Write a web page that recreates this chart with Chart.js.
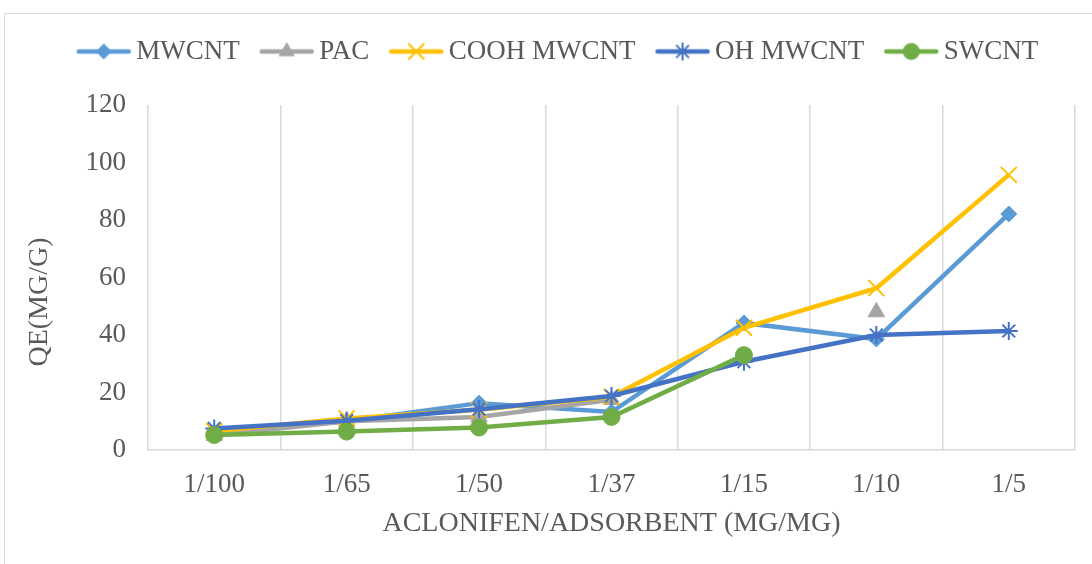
<!DOCTYPE html>
<html><head><meta charset="utf-8">
<script src="https://cdn.jsdelivr.net/npm/chart.js@4.4.1/dist/chart.umd.min.js"></script>
<style>
html,body{margin:0;padding:0;background:#fff;width:1092px;height:564px;overflow:hidden}
#frame{position:absolute;left:4px;top:13px;width:1200px;height:700px;border-left:1.5px solid #d9d9d9;border-top:1.5px solid #d9d9d9}
#c{position:absolute;left:0;top:0}
</style></head><body>
<div id="frame"></div>
<canvas id="c" width="1092" height="564"></canvas>
<script>
const categories = ['1/100','1/65','1/50','1/37','1/15','1/10','1/5'];
const seriesNames = ['MWCNT','PAC','COOH MWCNT','OH MWCNT','SWCNT'];
const mwcnt = [6, 10, 16.3, 13.2, 44.2, 38.6, 82.1];
const pac = [5, 10, 11.5, 17.5, null, 48, null];
const coohMwcnt = [6.5, 11, 14, 18.5, 42.5, 56.3, 95.7];
const ohMwcnt = [7.5, 10.2, 14.2, 18.8, 30.7, 40, 41.4];
const swcnt = [5.2, 6.4, 7.8, 11.5, 33, null, null];
const yTicks = [0, 20, 40, 60, 80, 100, 120];
const xTitle = 'ACLONIFEN/ADSORBENT (MG/MG)';
const yTitle = 'QE(MG/G)       ';

const colors = ['#5B9BD5', '#A5A5A5', '#FFC000', '#4472C4', '#70AD47'];
const styles = ['rectRot', 'triangle', 'crossRot', 'star', 'circle'];
const radii = [8, 9.5, 11.3, 9, 8.5];
const borderW = [1, 1, 2, 2, 1];
const seriesData = [mwcnt, pac, coohMwcnt, ohMwcnt, swcnt];

function icon(color, style) {
  const c = document.createElement('canvas');
  c.width = 56; c.height = 24;
  const g = c.getContext('2d');
  const cx = 28, cy = 12;
  g.strokeStyle = color; g.fillStyle = color;
  g.lineWidth = 4.5; g.lineCap = 'round';
  g.beginPath(); g.moveTo(3, cy); g.lineTo(53, cy); g.stroke();
  g.beginPath();
  if (style === 'rectRot') {
    const r = 8;
    g.moveTo(cx, cy - r); g.lineTo(cx + r, cy); g.lineTo(cx, cy + r); g.lineTo(cx - r, cy); g.closePath(); g.fill();
  } else if (style === 'triangle') {
    const r = 9.5;
    g.moveTo(cx, cy - r); g.lineTo(cx + r * 0.866, cy + r / 2); g.lineTo(cx - r * 0.866, cy + r / 2); g.closePath(); g.fill();
  } else if (style === 'crossRot') {
    const d = 8; g.lineWidth = 2; g.lineCap = 'butt';
    g.moveTo(cx - d, cy - d); g.lineTo(cx + d, cy + d); g.moveTo(cx + d, cy - d); g.lineTo(cx - d, cy + d); g.stroke();
  } else if (style === 'star') {
    const d = 6.4, r = 9; g.lineWidth = 2; g.lineCap = 'butt';
    g.moveTo(cx - d, cy - d); g.lineTo(cx + d, cy + d); g.moveTo(cx + d, cy - d); g.lineTo(cx - d, cy + d);
    g.moveTo(cx, cy - r); g.lineTo(cx, cy + r); g.moveTo(cx - r, cy); g.lineTo(cx + r, cy); g.stroke();
  } else {
    g.arc(cx, cy, 8.5, 0, Math.PI * 2); g.fill();
  }
  return c;
}
const icons = colors.map((c, i) => icon(c, styles[i]));

const font = { family: 'Liberation Serif', size: 27 };
const titleFont = { family: 'Liberation Serif', size: 28 };
const textColor = '#595959';

const legendSpacer = {
  id: 'legendSpacer',
  afterInit(chart) {
    const lg = chart.legend;
    if (!lg) return;
    const fit = lg.fit.bind(lg);
    lg.fit = function () { fit(); this.height += 30; };
  }
};

new Chart(document.getElementById('c'), {
  type: 'line',
  plugins: [legendSpacer],
  data: {
    labels: categories,
    datasets: seriesNames.map((name, i) => ({
      label: name,
      data: seriesData[i],
      borderColor: colors[i],
      backgroundColor: colors[i],
      borderWidth: 4.5,
      pointStyle: styles[i],
      pointRadius: radii[i],
      pointBorderWidth: borderW[i],
      pointBorderColor: colors[i],
      pointBackgroundColor: colors[i],
      tension: 0,
      spanGaps: false,
      order: seriesNames.length - i
    }))
  },
  options: {
    responsive: false,
    animation: false,
    layout: { padding: { top: 10, left: 48, right: 17, bottom: 0 } },
    plugins: {
      tooltip: { enabled: false },
      legend: {
        position: 'top',
        labels: {
          usePointStyle: true,
          pointStyleWidth: 38,
          padding: 28,
          font: font,
          color: textColor,
          generateLabels: (chart) => chart.data.datasets.map((ds, i) => ({
            text: ds.label, pointStyle: icons[i], fontColor: textColor,
            datasetIndex: i, hidden: false, lineWidth: 0,
            strokeStyle: 'rgba(0,0,0,0)', fillStyle: 'rgba(0,0,0,0)'
          }))
        }
      }
    },
    scales: {
      x: {
        offset: true,
        grid: { display: true, offset: true, color: '#d9d9d9', lineWidth: 1.5, drawTicks: false },
        border: { display: true, color: '#d9d9d9', width: 1.5 },
        ticks: { font: font, color: textColor, padding: 19 },
        title: { display: true, text: xTitle, font: titleFont, color: textColor, padding: { top: 4, bottom: 24 } },
        afterFit: (s) => { s.height = 114; }
      },
      y: {
        min: 0, max: 120,
        afterBuildTicks: (s) => { s.ticks = yTicks.map(v => ({ value: v })); },
        ticks: { font: font, color: textColor, padding: 22 },
        grid: { display: false, drawTicks: false },
        border: { display: false },
        title: { display: true, text: yTitle, font: titleFont, color: textColor, padding: { top: -25, bottom: 0 } },
        afterFit: (s) => { s.width = 100; }
      }
    }
  }
});
</script>
</body></html>
